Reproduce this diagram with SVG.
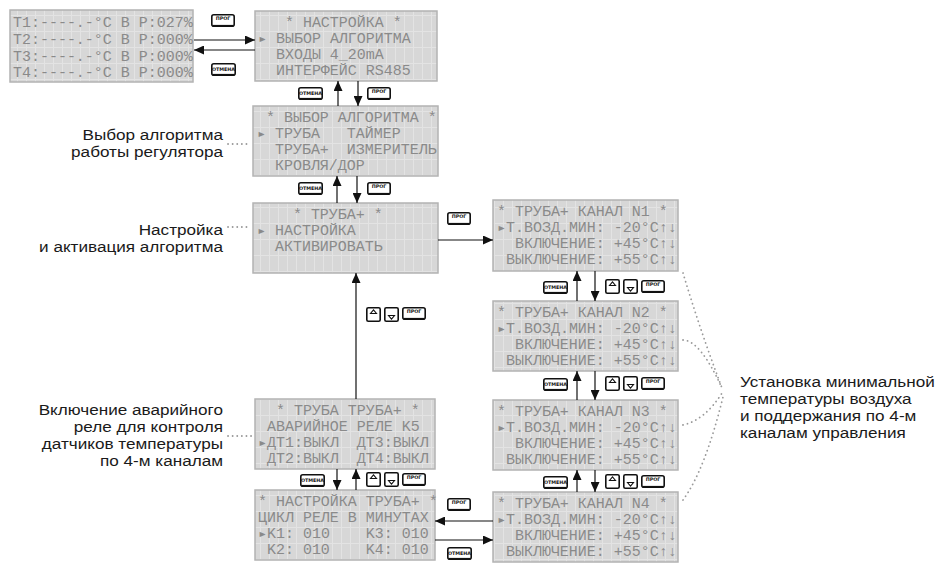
<svg xmlns="http://www.w3.org/2000/svg" width="942" height="567" viewBox="0 0 942 567">
<style>
.lcd{fill:url(#grid);stroke:#b3b3b3;stroke-width:1.5}
.lt{font-family:"Liberation Mono",monospace;font-size:14px;fill:#8a8a8a}
.lab{font-family:"Liberation Sans",Arial,sans-serif;font-size:15.3px;fill:#1a1a1a}
.con{stroke:#111;stroke-width:1.2;fill:none}
.dot{stroke:#9a9a9a;stroke-width:1.8;stroke-linecap:round;stroke-dasharray:0.1 4.5;fill:none}
.bt{font-family:"DejaVu Sans",sans-serif;font-weight:bold;font-size:4.8px;fill:#111;text-anchor:middle}
.bf{fill:#fff;stroke:#111;stroke-width:1.6}
</style>
<defs>
<pattern id="grid" width="9" height="16" patternUnits="userSpaceOnUse">
<rect width="9" height="16" fill="#d7d7d7"/>
<path d="M8.5 0V16M0 15.5H9" stroke="#e3e3e3" stroke-width="1"/>
</pattern>
<marker id="ah" markerWidth="10" markerHeight="9" refX="10" refY="4.5" orient="auto" markerUnits="userSpaceOnUse">
<path d="M0 0L10 4.5L0 9z" fill="#111"/>
</marker>
<g id="bP"><rect class="bf" x="0.8" y="0.8" width="22.4" height="11.4" rx="2"/><path d="M2 11.6H22" stroke="#111" stroke-width="1.4"/><text class="bt" x="12" y="6.4">ПРОГ</text></g>
<g id="bO"><rect class="bf" x="0.8" y="0.8" width="23.4" height="11.4" rx="2"/><path d="M2 11.6H23" stroke="#111" stroke-width="1.4"/><text class="bt" x="12.5" y="8.2" font-size="5.2px">ОТМЕНА</text></g>
<g id="bU"><rect class="bf" x="0.8" y="0.8" width="13.4" height="13.4" rx="1.5"/><path d="M4.5 6.5H10.5L7.5 2.8Z" fill="#fff" stroke="#111" stroke-width="1.1"/></g>
<g id="bD"><rect class="bf" x="0.8" y="0.8" width="13.4" height="13.4" rx="1.5"/><path d="M4.5 8.5H10.5L7.5 12.2Z" fill="#fff" stroke="#111" stroke-width="1.1"/></g>
</defs>

<g id="lcd-status">
<rect class="lcd" x="10" y="10" width="183" height="72"/>
<g transform="translate(13,0) scale(1.07,1)">
<text class="lt" xml:space="preserve"><tspan x="0" y="27">T1:----.-°C В P:027%</tspan><tspan x="0" y="44">T2:----.-°C В P:000%</tspan><tspan x="0" y="61">T3:----.-°C В P:000%</tspan><tspan x="0" y="77">T4:----.-°C В P:000%</tspan></text>
</g>
</g>

<g id="lcd-nastroyka">
<rect class="lcd" x="255" y="11" width="182" height="70"/>
<g transform="translate(258,0) scale(1.07,1)">
<text class="lt" xml:space="preserve"><tspan x="0" y="27">   * НАСТРОЙКА *</tspan><tspan x="0" y="43">▸ ВЫБОР АЛГОРИТМА</tspan><tspan x="0" y="59">  ВХОДЫ 4_20mA</tspan><tspan x="0" y="75">  ИНТЕРФЕЙС RS485</tspan></text>
</g>
</g>

<g id="lcd-vybor">
<rect class="lcd" x="253" y="106" width="185" height="70"/>
<g transform="translate(257,0) scale(1.07,1)">
<text class="lt" xml:space="preserve"><tspan x="0" y="122"> * ВЫБОР АЛГОРИТМА *</tspan><tspan x="0" y="138">▸ ТРУБА   ТАЙМЕР</tspan><tspan x="0" y="154">  ТРУБА+  ИЗМЕРИТЕЛЬ</tspan><tspan x="0" y="170">  КРОВЛЯ/ДОР</tspan></text>
</g>
</g>

<g id="lcd-truba">
<rect class="lcd" x="253" y="203" width="185" height="70"/>
<g transform="translate(257,0) scale(1.07,1)">
<text class="lt" xml:space="preserve"><tspan x="0" y="219">    * ТРУБА+ *</tspan><tspan x="0" y="235">▸ НАСТРОЙКА</tspan><tspan x="0" y="251">  АКТИВИРОВАТЬ</tspan></text>
</g>
</g>

<g id="lcd-avar">
<rect class="lcd" x="255" y="399" width="180" height="70"/>
<g transform="translate(258,0) scale(1.07,1)">
<text class="lt" xml:space="preserve"><tspan x="0" y="415">  * ТРУБА ТРУБА+ *</tspan><tspan x="0" y="431"> АВАРИЙНОЕ РЕЛЕ K5</tspan><tspan x="0" y="447">▸ДТ1:ВЫКЛ  ДТ3:ВЫКЛ</tspan><tspan x="0" y="463"> ДТ2:ВЫКЛ  ДТ4:ВЫКЛ</tspan></text>
</g>
</g>

<g id="lcd-cikl">
<rect class="lcd" x="255" y="490" width="180" height="70"/>
<g transform="translate(258,0) scale(1.07,1)">
<text class="lt" xml:space="preserve"><tspan x="0" y="506">* НАСТРОЙКА ТРУБА+ *</tspan><tspan x="0" y="522">ЦИКЛ РЕЛЕ В МИНУТАХ</tspan><tspan x="0" y="538">▸K1: 010    K3: 010</tspan><tspan x="0" y="554"> K2: 010    K4: 010</tspan></text>
</g>
</g>

<g id="lcd-k1">
<rect class="lcd" x="493" y="200" width="185" height="71"/>
<g transform="translate(497,0) scale(1.07,1)">
<text class="lt" xml:space="preserve"><tspan x="0" y="216">* ТРУБА+ КАНАЛ N1 *</tspan><tspan x="0" y="232">▸T.ВОЗД.МИН: -20°C↑↓</tspan><tspan x="0" y="248">  ВКЛЮЧЕНИЕ: +45°C↑↓</tspan><tspan x="0" y="264"> ВЫКЛЮЧЕНИЕ: +55°C↑↓</tspan></text>
</g>
</g>

<g id="lcd-k2">
<rect class="lcd" x="493" y="301" width="185" height="70"/>
<g transform="translate(497,0) scale(1.07,1)">
<text class="lt" xml:space="preserve"><tspan x="0" y="317">* ТРУБА+ КАНАЛ N2 *</tspan><tspan x="0" y="333">▸T.ВОЗД.МИН: -20°C↑↓</tspan><tspan x="0" y="349">  ВКЛЮЧЕНИЕ: +45°C↑↓</tspan><tspan x="0" y="365"> ВЫКЛЮЧЕНИЕ: +55°C↑↓</tspan></text>
</g>
</g>

<g id="lcd-k3">
<rect class="lcd" x="493" y="400" width="185" height="70"/>
<g transform="translate(497,0) scale(1.07,1)">
<text class="lt" xml:space="preserve"><tspan x="0" y="416">* ТРУБА+ КАНАЛ N3 *</tspan><tspan x="0" y="432">▸T.ВОЗД.МИН: -20°C↑↓</tspan><tspan x="0" y="448">  ВКЛЮЧЕНИЕ: +45°C↑↓</tspan><tspan x="0" y="464"> ВЫКЛЮЧЕНИЕ: +55°C↑↓</tspan></text>
</g>
</g>

<g id="lcd-k4">
<rect class="lcd" x="493" y="492" width="185" height="70"/>
<g transform="translate(497,0) scale(1.07,1)">
<text class="lt" xml:space="preserve"><tspan x="0" y="508">* ТРУБА+ КАНАЛ N4 *</tspan><tspan x="0" y="524">▸T.ВОЗД.МИН: -20°C↑↓</tspan><tspan x="0" y="540">  ВКЛЮЧЕНИЕ: +45°C↑↓</tspan><tspan x="0" y="556"> ВЫКЛЮЧЕНИЕ: +55°C↑↓</tspan></text>
</g>
</g>

<g id="labels">
<g transform="translate(223,0) scale(1.12,1)">
<text class="lab" text-anchor="end"><tspan x="0" y="140">Выбор алгоритма</tspan><tspan x="0" y="157">работы регулятора</tspan></text>
<text class="lab" text-anchor="end"><tspan x="0" y="235">Настройка</tspan><tspan x="0" y="252">и активация алгоритма</tspan></text>
<text class="lab" text-anchor="end"><tspan x="0" y="415">Включение аварийного</tspan><tspan x="0" y="432">реле для контроля</tspan><tspan x="0" y="449">датчиков температуры</tspan><tspan x="0" y="466">по 4-м каналам</tspan></text>
</g>
<g transform="translate(740,0) scale(1.12,1)">
<text class="lab"><tspan x="0" y="387">Установка минимальной</tspan><tspan x="0" y="404">температуры воздуха</tspan><tspan x="0" y="421">и поддержания по 4-м</tspan><tspan x="0" y="438">каналам управления</tspan></text>
</g>
</g>

<g id="leaders">
<path class="dot" d="M228 144H251"/>
<path class="dot" d="M228 227H251"/>
<path class="dot" d="M228 436H253"/>
<path class="dot" d="M683 273Q700 330 722 388"/>
<path class="dot" d="M683 340Q700 340 722 388"/>
<path class="dot" d="M683 425Q705 420 722 393"/>
<path class="dot" d="M683 500Q705 470 723 397"/>
</g>

<g id="connectors">
<path class="con" marker-end="url(#ah)" d="M194 40H255"/>
<path class="con" marker-end="url(#ah)" d="M255 50H194"/>
<path class="con" marker-end="url(#ah)" d="M338 106V81"/>
<path class="con" marker-end="url(#ah)" d="M358 81V106"/>
<path class="con" marker-end="url(#ah)" d="M337 203V176"/>
<path class="con" marker-end="url(#ah)" d="M357 176V203"/>
<path class="con" marker-end="url(#ah)" d="M356 399V273"/>
<path class="con" marker-end="url(#ah)" d="M337 469V490"/>
<path class="con" marker-end="url(#ah)" d="M356 490V469"/>
<path class="con" marker-end="url(#ah)" d="M438 240H493"/>
<path class="con" marker-end="url(#ah)" d="M577 301V271"/>
<path class="con" marker-end="url(#ah)" d="M595 271V301"/>
<path class="con" marker-end="url(#ah)" d="M577 400V371"/>
<path class="con" marker-end="url(#ah)" d="M595 371V400"/>
<path class="con" marker-end="url(#ah)" d="M577 492V470"/>
<path class="con" marker-end="url(#ah)" d="M595 470V492"/>
<path class="con" marker-end="url(#ah)" d="M493 521H435"/>
<path class="con" marker-end="url(#ah)" d="M435 540H493"/>
</g>

<g id="buttons">
<use href="#bP" x="211" y="14"/>
<use href="#bO" x="211" y="63"/>
<use href="#bO" x="298" y="87"/>
<use href="#bP" x="367" y="87"/>
<use href="#bO" x="298" y="182"/>
<use href="#bP" x="367" y="182"/>
<use href="#bU" x="366" y="307"/>
<use href="#bD" x="384" y="307"/>
<use href="#bP" x="402" y="307"/>
<use href="#bO" x="300" y="474"/>
<use href="#bU" x="366" y="472"/>
<use href="#bD" x="384" y="472"/>
<use href="#bP" x="402" y="473"/>
<use href="#bP" x="447" y="212"/>
<use href="#bP" x="447" y="498"/>
<use href="#bO" x="447" y="547"/>
<use href="#bO" x="543" y="281"/>
<use href="#bU" x="605" y="279"/>
<use href="#bD" x="623" y="279"/>
<use href="#bP" x="641" y="280"/>
<use href="#bO" x="543" y="378"/>
<use href="#bU" x="605" y="376"/>
<use href="#bD" x="623" y="376"/>
<use href="#bP" x="641" y="377"/>
<use href="#bO" x="543" y="476"/>
<use href="#bU" x="605" y="474"/>
<use href="#bD" x="623" y="474"/>
<use href="#bP" x="641" y="475"/>
</g>
</svg>
